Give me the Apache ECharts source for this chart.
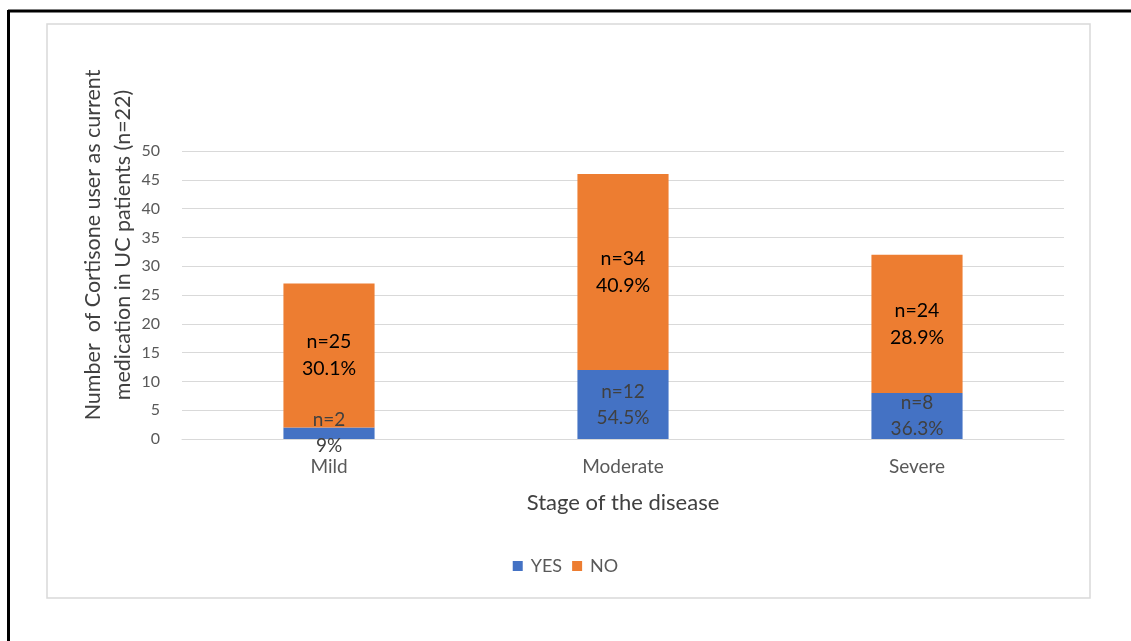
<!DOCTYPE html>
<html>
<head>
<meta charset="utf-8">
<script src="https://cdn.jsdelivr.net/npm/echarts@6/dist/echarts.min.js"></script>
<style>
  html, body { margin: 0; padding: 0; background: #fff; }
  #chart { width: 1131px; height: 641px; }
</style>
</head>
<body>
<div id="chart"></div>
<script>
// Stage categories and counts of cortisone users (YES) / non-users (NO)
const stages = ['Mild', 'Moderate', 'Severe'];
const yesCounts = [2, 12, 8];
const noCounts = [25, 34, 24];
const yesPct = ['9%', '54.5%', '36.3%'];
const noPct = ['30.1%', '40.9%', '28.9%'];
const yTicks = [0, 50, 5];

const FONT = 'Lato, "Open Sans", sans-serif';
const chart = echarts.init(document.getElementById('chart'));

chart.setOption({
  backgroundColor: '#ffffff',
  animation: false,
  textStyle: { fontFamily: FONT },
  grid: { left: 182, right: 67, top: 151, bottom: 202 },
  legend: {
    data: ['YES', 'NO'],
    top: 552,
    left: 'center',
    icon: 'rect',
    itemWidth: 10,
    itemHeight: 10,
    itemGap: 10,
    textStyle: { fontSize: 18, color: '#595959', fontFamily: FONT, padding: [0, 0, 0, 3] }
  },
  xAxis: {
    type: 'category',
    data: stages,
    axisTick: { show: false },
    axisLine: { lineStyle: { color: '#d9d9d9', width: 1 } },
    axisLabel: { fontSize: 19, color: '#595959', margin: 18, fontFamily: FONT },
    name: 'Stage of the disease',
    nameLocation: 'middle',
    nameGap: 53,
    nameTextStyle: { fontSize: 22, color: '#404040', fontFamily: FONT }
  },
  yAxis: {
    type: 'value',
    min: yTicks[0],
    max: yTicks[1],
    interval: yTicks[2],
    axisLine: { show: false },
    axisTick: { show: false },
    axisLabel: { fontSize: 16, color: '#595959', margin: 22, fontFamily: FONT },
    splitLine: { lineStyle: { color: '#d9d9d9', width: 1 } }
  },
  series: [
    {
      name: 'YES',
      type: 'bar',
      stack: 'total',
      barWidth: '31%',
      data: yesCounts,
      itemStyle: { color: '#4472C4' },
      label: {
        show: true,
        position: 'inside',
        color: '#404040',
        fontSize: 19,
        lineHeight: 26,
        fontFamily: FONT,
        formatter: p => 'n=' + p.value + '\n' + yesPct[p.dataIndex]
      }
    },
    {
      name: 'NO',
      type: 'bar',
      stack: 'total',
      barWidth: '31%',
      data: noCounts,
      itemStyle: { color: '#ED7D31' },
      label: {
        show: true,
        position: 'inside',
        color: '#000000',
        fontSize: 19.5,
        lineHeight: 27,
        fontFamily: FONT,
        formatter: p => 'n=' + p.value + '\n' + noPct[p.dataIndex]
      }
    }
  ],
  graphic: [
    {
      type: 'rect',
      z: -10,
      shape: { x: 47, y: 24, width: 1043, height: 574 },
      style: { fill: 'none', stroke: '#d9d9d9', lineWidth: 1.5 }
    },
    {
      type: 'line',
      shape: { x1: 8, y1: 11, x2: 1131, y2: 11 },
      style: { stroke: '#000', lineWidth: 3 }
    },
    {
      type: 'line',
      shape: { x1: 8.5, y1: 10, x2: 8.5, y2: 641 },
      style: { stroke: '#000', lineWidth: 3 }
    },
    {
      type: 'text',
      x: 108,
      y: 245,
      rotation: Math.PI / 2,
      style: {
        text: 'Number  of Cortisone user as current\nmedication in UC patients (n=22)',
        fontSize: 21.5,
        lineHeight: 30,
        fill: '#404040',
        fontFamily: FONT,
        textAlign: 'center',
        textVerticalAlign: 'middle'
      }
    }
  ]
});
</script>
</body>
</html>
